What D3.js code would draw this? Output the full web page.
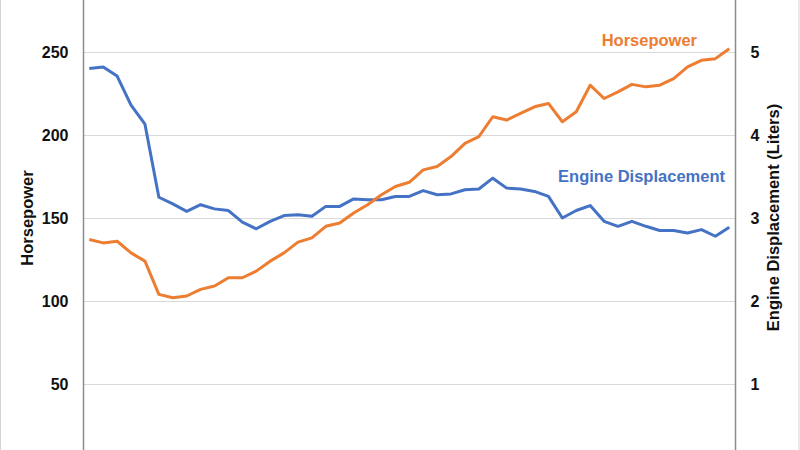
<!DOCTYPE html>
<html>
<head>
<meta charset="utf-8">
<script src="https://cdn.jsdelivr.net/npm/d3@7"></script>
<style>
  html, body { margin: 0; padding: 0; background: #fff; }
  svg { display: block; font-family: "Liberation Sans", Arial, sans-serif; }
</style>
</head>
<body>
<svg id="chart" width="800" height="450"></svg>
<script>
const years = d3.range(1975, 2022);
const horsepower = [137, 135, 136, 129, 124, 104, 102, 103, 107, 109,
  114, 114, 118, 124, 129, 135.5, 138, 145, 147, 153,
  158, 164, 169, 171.5, 179, 181, 187, 195, 199, 211,
  209, 213, 217, 219, 208, 214, 230, 222, 226, 230.5,
  229, 230, 234, 241, 245, 246, 252];
const displacement = [4.80, 4.82, 4.71, 4.36, 4.13, 3.25, 3.17, 3.08, 3.16, 3.11,
  3.09, 2.95, 2.87, 2.96, 3.03, 3.04, 3.02, 3.14, 3.14, 3.23,
  3.22, 3.22, 3.26, 3.26, 3.33, 3.28, 3.29, 3.34, 3.35, 3.48,
  3.36, 3.35, 3.32, 3.26, 3.00, 3.09, 3.15, 2.96, 2.90, 2.96,
  2.90, 2.85, 2.85, 2.82, 2.86, 2.78, 2.89];
const hpTicks = [50, 100, 150, 200, 250];
const dispTicks = [1, 2, 3, 4, 5];

const svg = d3.select("#chart");
const left = 83.5, right = 735.5;

const x = d3.scalePoint().domain(years).range([89.3, 729.3]);
const yHp = d3.scaleLinear().domain([0, 300]).range([467, -31]);
const yDisp = d3.scaleLinear().domain([0, 6]).range([467, -31]);

// outer border lines
svg.append("line").attr("x1", 0.5).attr("x2", 0.5).attr("y1", 0).attr("y2", 450)
  .attr("stroke", "#d4d4d4");
svg.append("line").attr("x1", 799).attr("x2", 799).attr("y1", 0).attr("y2", 450)
  .attr("stroke", "#d4d4d4");

// gridlines
svg.append("g").selectAll("line").data(hpTicks).join("line")
  .attr("x1", left).attr("x2", right)
  .attr("y1", d => Math.round(yHp(d)) + 0.5).attr("y2", d => Math.round(yHp(d)) + 0.5)
  .attr("stroke", "#d9d9d9").attr("stroke-width", 1);

// left axis
const gl = svg.append("g").attr("transform", `translate(${left},0)`)
  .call(d3.axisLeft(yHp).tickValues(hpTicks).tickFormat(d3.format("d")).tickSize(0).tickPadding(15));
gl.select(".domain").remove();
gl.append("line").attr("y1", 0).attr("y2", 450).attr("stroke", "#8c8c8c").attr("stroke-width", 1.5);
gl.selectAll("text").attr("font-size", 16).attr("font-weight", "bold").attr("fill", "#111")
  .attr("font-family", "Liberation Sans, Arial, sans-serif");

// right axis
const gr = svg.append("g").attr("transform", `translate(${right},0)`)
  .call(d3.axisRight(yDisp).tickValues(dispTicks).tickFormat(d3.format("d")).tickSize(0).tickPadding(15));
gr.select(".domain").remove();
gr.append("line").attr("y1", 0).attr("y2", 450).attr("stroke", "#8c8c8c").attr("stroke-width", 1.5);
gr.selectAll("text").attr("font-size", 16).attr("font-weight", "bold").attr("fill", "#111")
  .attr("font-family", "Liberation Sans, Arial, sans-serif");

// axis titles
svg.append("text").attr("transform", "translate(33,218) rotate(-90)")
  .attr("text-anchor", "middle").attr("font-size", 16.5).attr("font-weight", "bold")
  .attr("fill", "#111").text("Horsepower");
svg.append("text").attr("transform", "translate(779,217.5) rotate(-90)")
  .attr("text-anchor", "middle").attr("font-size", 16.5).attr("font-weight", "bold")
  .attr("fill", "#111").text("Engine Displacement (Liters)");

// lines
const lineHp = d3.line().x((d, i) => x(years[i])).y(d => yHp(d));
const lineDisp = d3.line().x((d, i) => x(years[i])).y(d => yDisp(d));

svg.append("path").datum(displacement).attr("d", lineDisp)
  .attr("fill", "none").attr("stroke", "#4472C4").attr("stroke-width", 3)
  .attr("stroke-linejoin", "round");
svg.append("path").datum(horsepower).attr("d", lineHp)
  .attr("fill", "none").attr("stroke", "#ED7D31").attr("stroke-width", 3)
  .attr("stroke-linejoin", "round");

// series labels
svg.append("text").attr("x", 697).attr("y", 46).attr("text-anchor", "end")
  .attr("font-size", 16.5).attr("font-weight", "bold").attr("fill", "#ED7D31").text("Horsepower");
svg.append("text").attr("x", 725).attr("y", 182).attr("text-anchor", "end")
  .attr("font-size", 16.5).attr("font-weight", "bold").attr("fill", "#4472C4").text("Engine Displacement");
</script>
</body>
</html>
